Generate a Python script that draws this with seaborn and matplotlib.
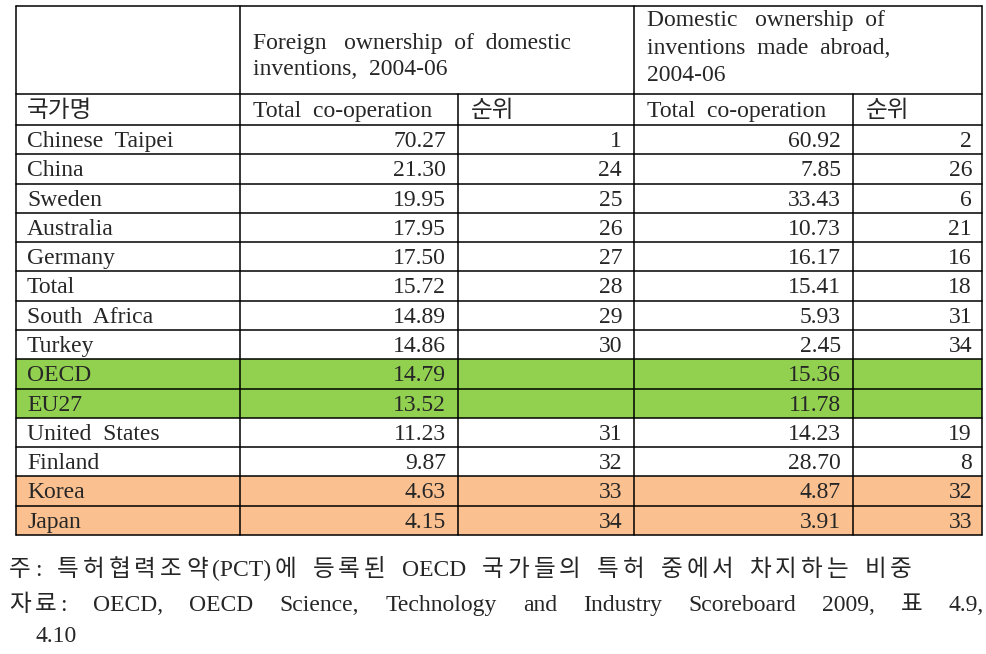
import matplotlib
matplotlib.use("Agg")
import re
import matplotlib.pyplot as plt
import seaborn as sns

# ── 0. SETUP ────────────────────────────────────────────────
sns.set_theme(style="white")
plt.rcParams["font.family"] = ["Liberation Serif", "Noto Sans CJK KR"]
FS = 17

# ── 1. DATA ─────────────────────────────────────────────────
countries = ["Chinese  Taipei", "China", "Sweden", "Australia", "Germany", "Total",
             "South  Africa", "Turkey", "OECD", "EU27", "United  States", "Finland",
             "Korea", "Japan"]
foreign = [70.27, 21.30, 19.95, 17.95, 17.50, 15.72, 14.89, 14.86, 14.79, 13.52,
           11.23, 9.87, 4.63, 4.15]
foreign_rank = [1, 24, 25, 26, 27, 28, 29, 30, None, None, 31, 32, 33, 34]
domestic = [60.92, 7.85, 33.43, 10.73, 16.17, 15.41, 5.93, 2.45, 15.36, 11.78,
            14.23, 28.70, 4.87, 3.91]
domestic_rank = [2, 26, 6, 21, 16, 18, 31, 34, None, None, 19, 8, 32, 33]
row_colors = {"OECD": "#92D050", "EU27": "#92D050", "Korea": "#FAC090", "Japan": "#FAC090"}

head_foreign = ["Foreign   ownership  of  domestic", "inventions,  2004-06"]
head_domestic = ["Domestic   ownership  of", "inventions  made  abroad,", "2004-06"]
sub_heads = ["국가명", "Total  co-operation", "순위", "Total  co-operation", "순위"]
note = ["주:", "특허협력조약(PCT)에", "등록된", "OECD", "국가들의", "특허", "중에서",
        "차지하는", "비중"]
source = ["자료:", "OECD,", "OECD", "Science,", "Technology", "and", "Industry",
          "Scoreboard", "2009,", "표", "4.9,"]
source_tail = "4.10"

# ── 2. LAYOUT (pixel grid) ──────────────────────────────────
W, H = 987, 654
col_x = [16, 240, 458, 634, 853, 982]
top, mid, head_bot = 6, 94, 125
row_h = (535 - head_bot) / len(countries)

fig = plt.figure(figsize=(W / 100, H / 100), dpi=100)
ax = fig.add_axes([0, 0, 1, 1])
ax.set_xlim(0, W)
ax.set_ylim(H, 0)
ax.axis("off")

# row backgrounds
for i, c in enumerate(countries):
    if c in row_colors:
        y0 = head_bot + i * row_h
        ax.fill_between([col_x[0], col_x[-1]], y0, y0 + row_h, color=row_colors[c], lw=0)

# grid lines
lw = 1.1
bottom = head_bot + len(countries) * row_h
for yy in [top, head_bot] + [head_bot + (i + 1) * row_h for i in range(len(countries))]:
    ax.plot([col_x[0], col_x[-1]], [yy, yy], color="black", lw=lw)
ax.plot([col_x[0], col_x[-1]], [mid, mid], color="black", lw=lw)
for j, xx in enumerate(col_x):
    y_start = mid if j in (2, 4) else top
    ax.plot([xx, xx], [y_start, bottom], color="black", lw=lw)

# header text
for k, t in enumerate(head_foreign):
    ax.text(col_x[1] + 13, 49 + k * 26, t, fontsize=FS, va="baseline", ha="left")
for k, t in enumerate(head_domestic):
    ax.text(col_x[3] + 13, 26 + k * 27.5, t, fontsize=FS, va="baseline", ha="left")
for j, t in enumerate(sub_heads):
    ax.text(col_x[j] + (11 if j == 0 else 13), 117, t, fontsize=FS, va="baseline", ha="left")

# body text
pad = 12
for i, c in enumerate(countries):
    yb = head_bot + i * row_h + 22
    ax.text(col_x[0] + 11, yb, c, fontsize=FS, va="baseline", ha="left")
    ax.text(col_x[2] - pad, yb, f"{foreign[i]:.2f}", fontsize=FS, va="baseline", ha="right")
    if foreign_rank[i] is not None:
        ax.text(col_x[3] - pad, yb, str(foreign_rank[i]), fontsize=FS, va="baseline", ha="right")
    ax.text(col_x[4] - pad, yb, f"{domestic[i]:.2f}", fontsize=FS, va="baseline", ha="right")
    if domestic_rank[i] is not None:
        ax.text(col_x[5] - pad + 2, yb, str(domestic_rank[i]), fontsize=FS, va="baseline", ha="right")

# ── 3. FOOTNOTES (justified, Korean letter-spaced) ──────────
fig.canvas.draw()
renderer = fig.canvas.get_renderer()
inv = ax.transData.inverted()


def width_of(t):
    bb = t.get_window_extent(renderer)
    return inv.transform((bb.x1, bb.y0))[0] - inv.transform((bb.x0, bb.y0))[0]


def justify(word_list, y, x_left, x_right, ls=4):
    words = []
    for w in word_list:
        pieces = re.findall(r"[\uac00-\ud7a3]|[^\uac00-\ud7a3]+", w)
        items = [ax.text(0, y, p, fontsize=FS, va="baseline", ha="left") for p in pieces]
        ws = [width_of(t) for t in items]
        words.append((items, ws, sum(ws) + ls * (len(items) - 1)))
    gap = (x_right - x_left - sum(w[2] for w in words)) / (len(words) - 1)
    x = x_left
    for items, ws, total in words:
        xx = x
        for t, w in zip(items, ws):
            t.set_x(xx)
            xx += w + ls
        x += total + gap


justify(note, 576, 9, 912)
justify(source, 611, 9, 984)
ax.text(36, 642, source_tail, fontsize=FS, va="baseline", ha="left")

plt.savefig("out.png", dpi=100)
